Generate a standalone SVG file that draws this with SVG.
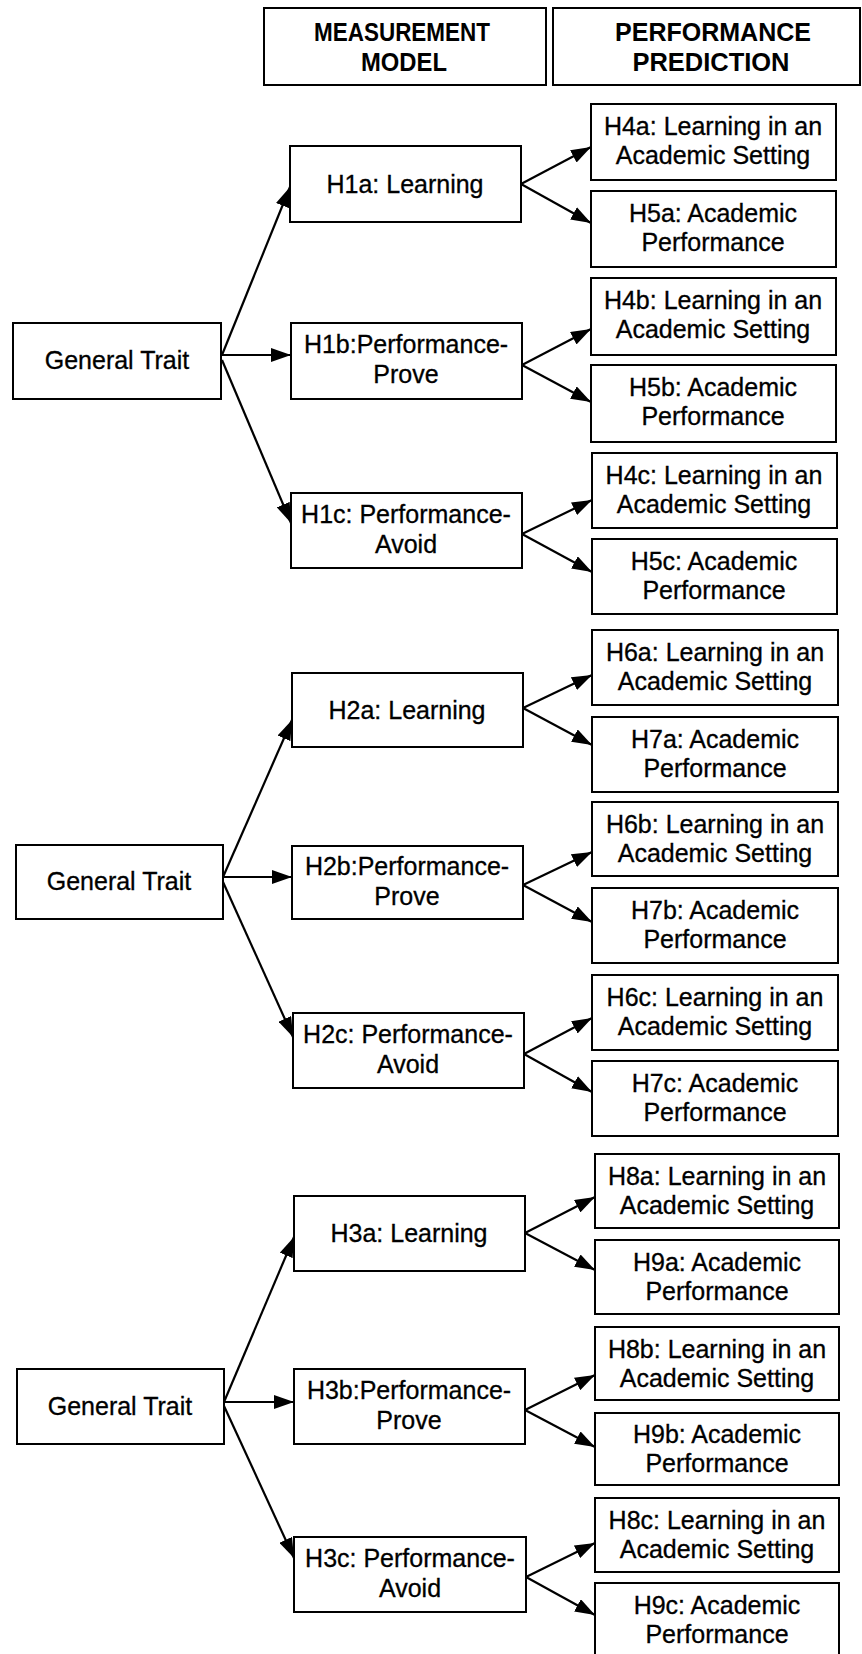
<svg xmlns="http://www.w3.org/2000/svg" width="862" height="1654" viewBox="0 0 862 1654">
  <style>
    .box { fill: #ffffff; stroke: #000000; stroke-width: 2; }
    .lbl { font-family: "Liberation Sans", Arial, sans-serif; font-size: 25px; fill: #000000; stroke: #000000; stroke-width: 0.3; text-anchor: middle; }
    .hdr { font-family: "Liberation Sans", Arial, sans-serif; font-size: 25px; font-weight: bold; fill: #000000; text-anchor: middle; }
    .edge { stroke: #000000; stroke-width: 2.2; fill: none; marker-end: url(#arrow); }
  </style>
  <defs>
    <marker id="arrow" markerUnits="userSpaceOnUse" markerWidth="20" markerHeight="14" refX="20" refY="7" orient="auto">
      <path d="M0,0 L20,7 L0,14 Z" fill="#000000"/>
    </marker>
  </defs>
  <rect width="862" height="1654" fill="#ffffff"/>

  <!-- column headers -->
  <g id="header-measurement">
    <rect class="box" x="264" y="8" width="282" height="77"/>
    <text class="hdr" x="402" y="41" textLength="176" lengthAdjust="spacingAndGlyphs">MEASUREMENT</text>
    <text class="hdr" x="404" y="71" textLength="86" lengthAdjust="spacingAndGlyphs">MODEL</text>
  </g>
  <g id="header-prediction">
    <rect class="box" x="553" y="8" width="307" height="77"/>
    <text class="hdr" x="713" y="41" textLength="196" lengthAdjust="spacingAndGlyphs">PERFORMANCE</text>
    <text class="hdr" x="711" y="71" textLength="157" lengthAdjust="spacingAndGlyphs">PREDICTION</text>
  </g>

  <!-- connectors -->
  <g id="connectors">
    <line class="edge" x1="222" y1="355" x2="290" y2="187"/>
    <line class="edge" x1="222" y1="355" x2="291" y2="355"/>
    <line class="edge" x1="222" y1="360" x2="291" y2="523"/>
    <line class="edge" x1="521" y1="184" x2="591" y2="147"/>
    <line class="edge" x1="521" y1="184" x2="591" y2="223"/>
    <line class="edge" x1="522" y1="365" x2="591" y2="329"/>
    <line class="edge" x1="522" y1="365" x2="591" y2="402"/>
    <line class="edge" x1="522" y1="534" x2="592" y2="500"/>
    <line class="edge" x1="522" y1="534" x2="592" y2="572"/>

    <line class="edge" x1="223" y1="877" x2="292" y2="720"/>
    <line class="edge" x1="223" y1="877" x2="292" y2="877"/>
    <line class="edge" x1="223" y1="882" x2="293" y2="1037"/>
    <line class="edge" x1="523" y1="708" x2="592" y2="675"/>
    <line class="edge" x1="523" y1="708" x2="592" y2="745"/>
    <line class="edge" x1="523" y1="885" x2="592" y2="852"/>
    <line class="edge" x1="523" y1="885" x2="592" y2="922"/>
    <line class="edge" x1="524" y1="1054" x2="592" y2="1018"/>
    <line class="edge" x1="524" y1="1054" x2="592" y2="1092"/>

    <line class="edge" x1="224" y1="1402" x2="294" y2="1237"/>
    <line class="edge" x1="224" y1="1402" x2="294" y2="1402"/>
    <line class="edge" x1="224" y1="1406" x2="294" y2="1558"/>
    <line class="edge" x1="525" y1="1233" x2="595" y2="1197"/>
    <line class="edge" x1="525" y1="1233" x2="595" y2="1270"/>
    <line class="edge" x1="525" y1="1410" x2="595" y2="1375"/>
    <line class="edge" x1="525" y1="1410" x2="595" y2="1447"/>
    <line class="edge" x1="526" y1="1577" x2="595" y2="1543"/>
    <line class="edge" x1="526" y1="1577" x2="595" y2="1615"/>
  </g>

  <!-- block 1 -->
  <g id="gt1"><rect class="box" x="13" y="323" width="208" height="76"/><text class="lbl" x="117" y="369">General Trait</text></g>
  <g id="h1a"><rect class="box" x="290" y="146" width="231" height="76"/><text class="lbl" x="405" y="193">H1a: Learning</text></g>
  <g id="h1b"><rect class="box" x="291" y="323" width="231" height="76"/><text class="lbl" x="406" y="353">H1b:Performance-</text><text class="lbl" x="406" y="383">Prove</text></g>
  <g id="h1c"><rect class="box" x="291" y="493" width="231" height="75"/><text class="lbl" x="406" y="523">H1c: Performance-</text><text class="lbl" x="406" y="553">Avoid</text></g>
  <g id="h4a"><rect class="box" x="591" y="104" width="245" height="76"/><text class="lbl" x="713" y="135">H4a: Learning in an</text><text class="lbl" x="713" y="164">Academic Setting</text></g>
  <g id="h5a"><rect class="box" x="591" y="191" width="245" height="76"/><text class="lbl" x="713" y="222">H5a: Academic</text><text class="lbl" x="713" y="251">Performance</text></g>
  <g id="h4b"><rect class="box" x="591" y="278" width="245" height="77"/><text class="lbl" x="713" y="309">H4b: Learning in an</text><text class="lbl" x="713" y="338">Academic Setting</text></g>
  <g id="h5b"><rect class="box" x="591" y="365" width="245" height="77"/><text class="lbl" x="713" y="396">H5b: Academic</text><text class="lbl" x="713" y="425">Performance</text></g>
  <g id="h4c"><rect class="box" x="592" y="453" width="245" height="75"/><text class="lbl" x="714" y="484">H4c: Learning in an</text><text class="lbl" x="714" y="513">Academic Setting</text></g>
  <g id="h5c"><rect class="box" x="592" y="539" width="245" height="75"/><text class="lbl" x="714" y="570">H5c: Academic</text><text class="lbl" x="714" y="599">Performance</text></g>

  <!-- block 2 -->
  <g id="gt2"><rect class="box" x="16" y="845" width="207" height="74"/><text class="lbl" x="119" y="890">General Trait</text></g>
  <g id="h2a"><rect class="box" x="292" y="673" width="231" height="74"/><text class="lbl" x="407" y="719">H2a: Learning</text></g>
  <g id="h2b"><rect class="box" x="292" y="846" width="231" height="73"/><text class="lbl" x="407" y="875">H2b:Performance-</text><text class="lbl" x="407" y="905">Prove</text></g>
  <g id="h2c"><rect class="box" x="293" y="1013" width="231" height="75"/><text class="lbl" x="408" y="1043">H2c: Performance-</text><text class="lbl" x="408" y="1073">Avoid</text></g>
  <g id="h6a"><rect class="box" x="592" y="630" width="246" height="75"/><text class="lbl" x="715" y="661">H6a: Learning in an</text><text class="lbl" x="715" y="690">Academic Setting</text></g>
  <g id="h7a"><rect class="box" x="592" y="717" width="246" height="75"/><text class="lbl" x="715" y="748">H7a: Academic</text><text class="lbl" x="715" y="777">Performance</text></g>
  <g id="h6b"><rect class="box" x="592" y="802" width="246" height="74"/><text class="lbl" x="715" y="833">H6b: Learning in an</text><text class="lbl" x="715" y="862">Academic Setting</text></g>
  <g id="h7b"><rect class="box" x="592" y="888" width="246" height="75"/><text class="lbl" x="715" y="919">H7b: Academic</text><text class="lbl" x="715" y="948">Performance</text></g>
  <g id="h6c"><rect class="box" x="592" y="975" width="246" height="75"/><text class="lbl" x="715" y="1006">H6c: Learning in an</text><text class="lbl" x="715" y="1035">Academic Setting</text></g>
  <g id="h7c"><rect class="box" x="592" y="1061" width="246" height="75"/><text class="lbl" x="715" y="1092">H7c: Academic</text><text class="lbl" x="715" y="1121">Performance</text></g>

  <!-- block 3 -->
  <g id="gt3"><rect class="box" x="17" y="1369" width="207" height="75"/><text class="lbl" x="120" y="1415">General Trait</text></g>
  <g id="h3a"><rect class="box" x="294" y="1196" width="231" height="75"/><text class="lbl" x="409" y="1242">H3a: Learning</text></g>
  <g id="h3b"><rect class="box" x="294" y="1369" width="231" height="75"/><text class="lbl" x="409" y="1399">H3b:Performance-</text><text class="lbl" x="409" y="1429">Prove</text></g>
  <g id="h3c"><rect class="box" x="294" y="1537" width="232" height="75"/><text class="lbl" x="410" y="1567">H3c: Performance-</text><text class="lbl" x="410" y="1597">Avoid</text></g>
  <g id="h8a"><rect class="box" x="595" y="1154" width="244" height="74"/><text class="lbl" x="717" y="1185">H8a: Learning in an</text><text class="lbl" x="717" y="1214">Academic Setting</text></g>
  <g id="h9a"><rect class="box" x="595" y="1240" width="244" height="74"/><text class="lbl" x="717" y="1271">H9a: Academic</text><text class="lbl" x="717" y="1300">Performance</text></g>
  <g id="h8b"><rect class="box" x="595" y="1327" width="244" height="73"/><text class="lbl" x="717" y="1358">H8b: Learning in an</text><text class="lbl" x="717" y="1387">Academic Setting</text></g>
  <g id="h9b"><rect class="box" x="595" y="1413" width="244" height="72"/><text class="lbl" x="717" y="1443">H9b: Academic</text><text class="lbl" x="717" y="1472">Performance</text></g>
  <g id="h8c"><rect class="box" x="595" y="1498" width="244" height="74"/><text class="lbl" x="717" y="1529">H8c: Learning in an</text><text class="lbl" x="717" y="1558">Academic Setting</text></g>
  <g id="h9c"><rect class="box" x="595" y="1583" width="244" height="76"/><text class="lbl" x="717" y="1614">H9c: Academic</text><text class="lbl" x="717" y="1643">Performance</text></g>
</svg>
